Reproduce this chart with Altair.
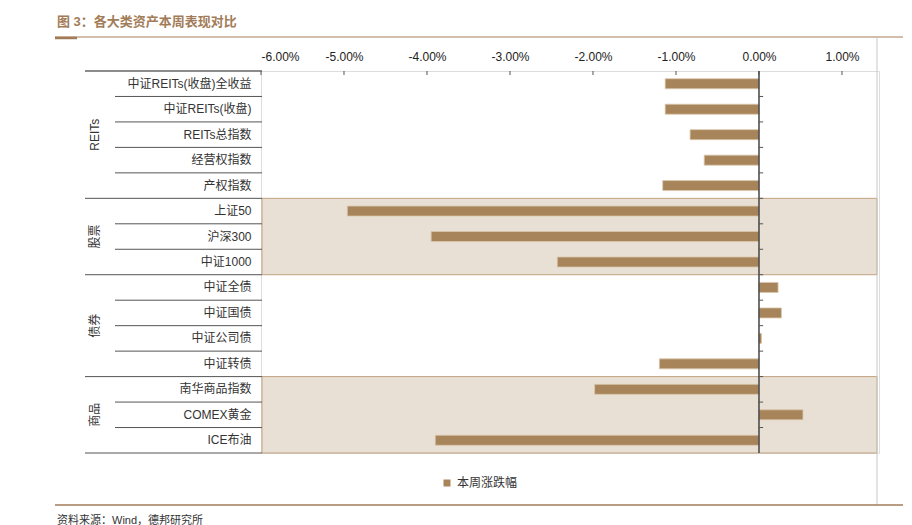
import altair as alt
import pandas as pd

# ---------------- data ----------------
categories = ["中证REITs(收盘)全收益", "中证REITs(收盘)", "REITs总指数", "经营权指数", "产权指数",
              "上证50", "沪深300", "中证1000",
              "中证全债", "中证国债", "中证公司债", "中证转债",
              "南华商品指数", "COMEX黄金", "ICE布油"]
groups = ["REITs"] * 5 + ["股票"] * 3 + ["债券"] * 4 + ["商品"] * 3
values = [-1.13, -1.13, -0.83, -0.66, -1.16,
          -4.96, -3.95, -2.43,
          0.23, 0.27, 0.03, -1.20,
          -1.98, 0.53, -3.90]
x_ticks = [-6, -5, -4, -3, -2, -1, 0, 1]
highlight_groups = ["股票", "商品"]
series_name = "本周涨跌幅"
title_text = "图 3：各大类资产本周表现对比"
source_text = "资料来源：Wind，德邦研究所"

# ---------------- style ----------------
FONT = "Liberation Sans, Noto Sans CJK SC"
BAR = "#A8845A"
BROWN = "#A27C58"
W, H = 618, 382

xscale = alt.Scale(domain=[-6, 1.446], nice=False, zero=False)
yscale = alt.Scale(domain=categories, paddingInner=0, paddingOuter=0)
y_axis = alt.Axis(orient="left", ticks=False, domain=False, grid=False, labelPadding=10,
                  labelFontSize=12, labelColor="#333", labelFont=FONT, labelLimit=300, title=None)

bars_df = pd.DataFrame({"category": categories, "group": groups, "value": values,
                        "series": [series_name] * len(categories)})

# group table
group_order = []
for g in groups:
    if g not in group_order:
        group_order.append(g)
grp_rows = []
for g in group_order:
    idx = [i for i, gg in enumerate(groups) if gg == g]
    grp_rows.append({"group": g, "first": categories[idx[0]], "last": categories[idx[-1]],
                     "n": len(idx), "mid": categories[idx[len(idx) // 2]]})
grp_df = pd.DataFrame(grp_rows)
box_df = grp_df[grp_df["group"].isin(highlight_groups)]
odd_lbl = grp_df[grp_df["n"] % 2 == 1]
even_lbl = grp_df[grp_df["n"] % 2 == 0]

sep_rows = []
for i in range(1, len(categories)):
    sep_rows.append({"category": categories[i],
                     "kind": "group" if groups[i] != groups[i - 1] else "inner"})
sep_df = pd.DataFrame(sep_rows)

# ---------------- layers ----------------
boxes = alt.Chart(box_df).mark_rect(fill="#E8E0D5", stroke="#C2A27F", strokeWidth=1).encode(
    x=alt.value(1), x2=alt.value(616),
    y=alt.Y("first:N", bandPosition=0, scale=yscale, axis=y_axis, title=None),
    y2=alt.Y2("last:N", bandPosition=1),
)

bars = alt.Chart(bars_df).mark_bar(size=10, stroke="#D9C6AC", strokeWidth=0.8).encode(
    x=alt.X("value:Q", scale=xscale, title=None,
            axis=alt.Axis(orient="top", values=x_ticks, ticks=False, domain=False, grid=False,
                          labelExpr="(datum.value < 0 ? '-' : '') + format(abs(datum.value), '.2f') + '%'",
                          labelPadding=8, labelFontSize=12, labelColor="#222", labelFont=FONT)),
    x2=alt.datum(0),
    y=alt.Y("category:N", scale=yscale, title=None, axis=y_axis),
    color=alt.Color("series:N", scale=alt.Scale(domain=[series_name], range=[BAR]),
                    legend=alt.Legend(orient="none", legendX=180, legendY=406, title=None,
                                      symbolType="square", symbolSize=49, symbolStrokeWidth=0,
                                      labelFontSize=12, labelFont=FONT, labelColor="#333",
                                      padding=0, labelOffset=4)),
)

inner_sep = alt.Chart(sep_df[sep_df["kind"] == "inner"]).mark_rule(color="#555", strokeWidth=1).encode(
    y=alt.Y("category:N", bandPosition=0, scale=yscale), x=alt.value(-146), x2=alt.value(1))
group_sep = alt.Chart(sep_df[sep_df["kind"] == "group"]).mark_rule(color="#555", strokeWidth=1).encode(
    y=alt.Y("category:N", bandPosition=0, scale=yscale), x=alt.value(-176), x2=alt.value(1))
bottom_sep = alt.Chart(pd.DataFrame({"category": [categories[-1]]})).mark_rule(color="#555", strokeWidth=1).encode(
    y=alt.Y("category:N", bandPosition=1, scale=yscale), x=alt.value(-176), x2=alt.value(1))

top_line = alt.Chart(pd.DataFrame({"a": [0]})).mark_rule(color="#8C8C8C", strokeWidth=2).encode(
    x=alt.value(-176), x2=alt.datum(x_ticks[-1]), y=alt.value(0))
axis_ticks = alt.Chart(pd.DataFrame({"tick": x_ticks})).mark_rule(color="#555").encode(
    x=alt.X("tick:Q", scale=xscale), y=alt.value(0), y2=alt.value(4))

zero_line = alt.Chart(pd.DataFrame({"a": [0]})).mark_rule(color="#444", strokeWidth=1.5).encode(
    x=alt.datum(0), y=alt.value(0), y2=alt.value(H))
zero_ticks = alt.Chart(sep_df).mark_rule(color="#555").encode(
    x=alt.datum(0), x2=alt.datum(0.05), y=alt.Y("category:N", bandPosition=0, scale=yscale))

lbl_odd = alt.Chart(odd_lbl).mark_text(angle=270, font=FONT, fontSize=12, color="#333",
                                       align="center", baseline="middle").encode(
    x=alt.value(-166), y=alt.Y("mid:N", bandPosition=0.5, scale=yscale), text="group:N")
lbl_even = alt.Chart(even_lbl).mark_text(angle=270, font=FONT, fontSize=12, color="#333",
                                         align="center", baseline="middle").encode(
    x=alt.value(-166), y=alt.Y("mid:N", bandPosition=0, scale=yscale), text="group:N")

title = alt.Chart(pd.DataFrame({"t": [title_text]})).mark_text(
    font=FONT, fontSize=13, fontWeight="bold", color=BROWN, align="left", baseline="middle").encode(
    x=alt.value(-204), y=alt.value(-49), text="t:N")
title_line = alt.Chart(pd.DataFrame({"a": [0]})).mark_rule(color=BROWN, strokeWidth=1).encode(
    x=alt.value(-206), x2=alt.value(642), y=alt.value(-34))
title_accent = alt.Chart(pd.DataFrame({"a": [0]})).mark_rule(color=BROWN, strokeWidth=2.5).encode(
    x=alt.value(-206), x2=alt.value(-184), y=alt.value(-33))
right_line = alt.Chart(pd.DataFrame({"a": [0]})).mark_rule(color="#C8C8C8", strokeWidth=1).encode(
    x=alt.value(616), y=alt.value(-33), y2=alt.value(434))
bottom_line = alt.Chart(pd.DataFrame({"a": [0]})).mark_rule(color=BROWN, strokeWidth=1.5).encode(
    x=alt.value(-206), x2=alt.value(642), y=alt.value(434))
source = alt.Chart(pd.DataFrame({"t": [source_text]})).mark_text(
    font=FONT, fontSize=11, color="#333", align="left", baseline="middle").encode(
    x=alt.value(-204), y=alt.value(450), text="t:N")

chart = alt.layer(
    boxes, inner_sep, group_sep, bottom_sep, bars, zero_line, zero_ticks, top_line, axis_ticks,
    lbl_odd, lbl_even, title, title_line, title_accent, right_line, bottom_line, source,
).properties(
    width=W, height=H,
    autosize=alt.AutoSizeParams(type="none"),
    padding={"left": 253, "top": 63, "right": 25, "bottom": 72},
).configure_view(stroke=None).configure(background="white")

chart.save("out.html", embed_options={"renderer": "svg", "actions": False})
